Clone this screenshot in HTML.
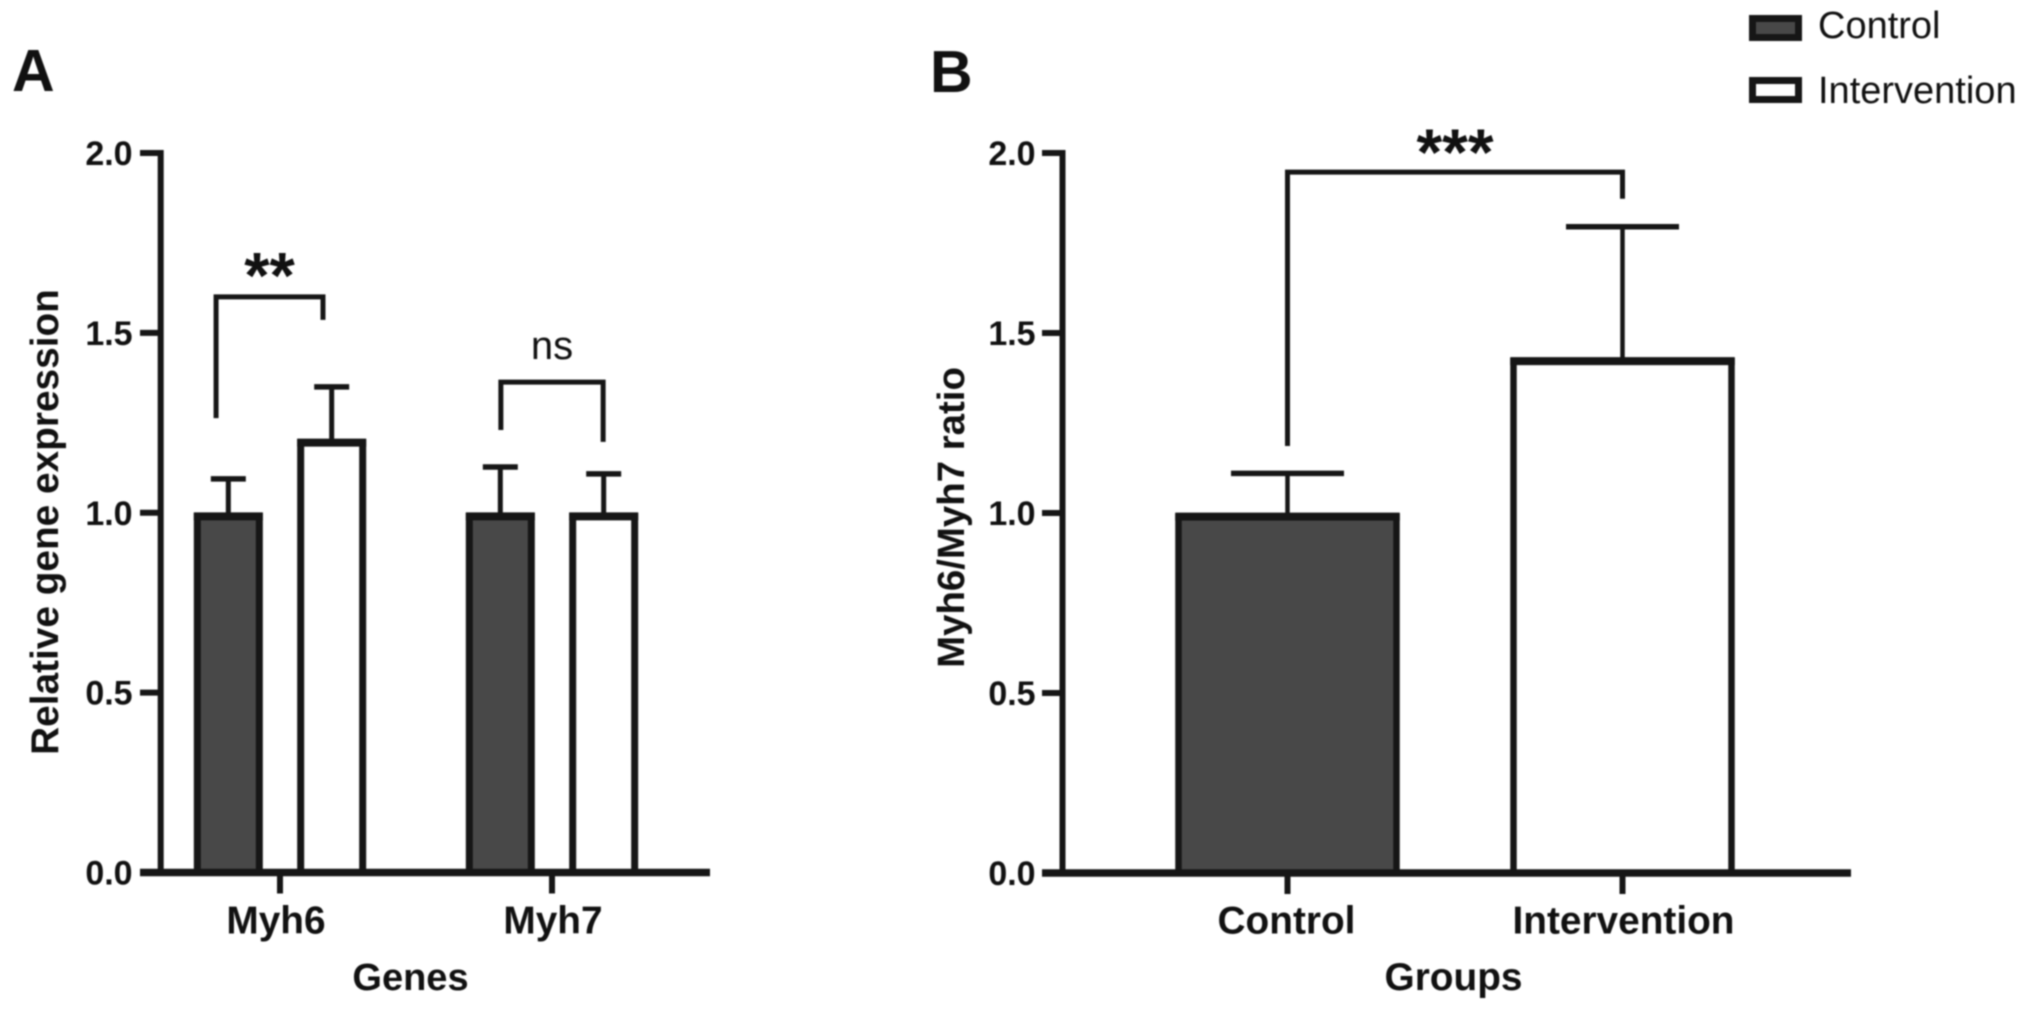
<!DOCTYPE html>
<html lang="en">
<head>
<meta charset="utf-8">
<title>Myh6 and Myh7 expression charts</title>
<style>
  html, body { margin: 0; padding: 0; background: #fff; }
  body { width: 2031px; height: 1012px; overflow: hidden; }
  svg { display: block; filter: blur(0.8px); }
  text { font-family: "Liberation Sans", Arial, sans-serif; fill: #111; }
  .bold { font-weight: 700; }
</style>
</head>
<body>
<svg id="figure" xmlns="http://www.w3.org/2000/svg" width="2031" height="1012" viewBox="0 0 2031 1012">
  <rect x="0" y="0" width="2031" height="1012" fill="#fff"/>

  <g id="panel-a"></g>
  <g id="panel-b"></g>

  <text class="bold" x="12" y="91" font-size="59">A</text>
  <text class="bold" x="930" y="92" font-size="59">B</text>

  <text class="bold" x="410.5" y="990" font-size="38" text-anchor="middle">Genes</text>
  <text class="bold" x="1453.5" y="990" font-size="38.8" text-anchor="middle">Groups</text>
  <text class="bold" transform="translate(58 522) rotate(-90)" font-size="38.8" text-anchor="middle">Relative gene expression</text>
  <text class="bold" transform="translate(964 517.5) rotate(-90)" font-size="38.4" text-anchor="middle">Myh6/Myh7 ratio</text>

  <g>
    <g>
      <rect x="1752.5" y="18.5" width="46" height="19" fill="#484848" stroke="#161616" stroke-width="7"/>
      <text x="1818" y="38" font-size="38">Control</text>
    </g>
    <g>
      <rect x="1752.5" y="80.5" width="46" height="19" fill="#fff" stroke="#161616" stroke-width="7"/>
      <text x="1818" y="103" font-size="38">Intervention</text>
    </g>
  </g>
</svg>

<script>
// Shared y axis
const tickValues = [0, 0.5, 1, 1.5, 2];
const tickLabels = ['0.0', '0.5', '1.0', '1.5', '2.0'];

// Panel A data
const genesCategories = ['Myh6', 'Myh7'];
const genesControl = [0.99, 0.99];
const genesIntervention = [1.195, 0.99];
const genesControlError = [0.104, 0.137];
const genesInterventionError = [0.155, 0.118];
const genesSigLabels = ['**', 'ns'];
const genesSigTop = [1.6, 1.363];
const genesSigLeftEnd = [1.263, 1.23];
const genesSigRightEnd = [1.536, 1.197];

// Panel B data
const groupCategories = ['Control', 'Intervention'];
const groupValues = [0.99, 1.422];
const groupError = [0.12, 0.373];
const groupSigLabels = ['***'];
const groupSigTop = [1.947];
const groupSigLeftEnd = [1.186];
const groupSigRightEnd = [1.873];

const NS = 'http://www.w3.org/2000/svg';
const INK = '#161616';
const DARK = '#484848';

function mk(parent, tag, attrs, text) {
  const el = document.createElementNS(NS, tag);
  for (const k in attrs) el.setAttribute(k, attrs[k]);
  if (text !== undefined) el.textContent = text;
  parent.appendChild(el);
  return el;
}

function linear(d0, d1, r0, r1) {
  return function (v) { return r0 + (v - d0) * (r1 - r0) / (d1 - d0); };
}

function drawAxes(g, cfg, y, x, categories) {
  tickValues.forEach(function (v, i) {
    const tick = mk(g, 'line', { x1: cfg.tickLeft, x2: cfg.axisX, y1: y(v), y2: y(v), stroke: INK, 'stroke-width': 6 });
    
    
    const label = mk(g, 'text', { x: cfg.tickLabelX, y: y(v) + 12, 'font-size': 34, 'font-weight': 700, 'text-anchor': 'end' }, tickLabels[i]);
    
    
  });
  const yAxis = mk(g, 'line', { x1: cfg.axisX, x2: cfg.axisX, y1: y(2) - 3, y2: y(0), stroke: INK, 'stroke-width': 6 });
  
  

  categories.forEach(function (c, i) {
    const tick = mk(g, 'line', { x1: x(i), x2: x(i), y1: y(0), y2: y(0) + 21, stroke: INK, 'stroke-width': 6 });
    
    
    const label = mk(g, 'text', { x: x(i) + cfg.catLabelDx[i], y: 933.5, 'font-size': 38.8, 'font-weight': 700, 'text-anchor': 'middle' }, c);
    
    
  });
}

function drawBar(g, cfg, y, cx, value, err, fill) {
  const stem = mk(g, 'line', { x1: cx, x2: cx, y1: y(value), y2: y(value + err), stroke: INK, 'stroke-width': cfg.stem });
  
  
  const cap = mk(g, 'line', { x1: cx - cfg.capHalf, x2: cx + cfg.capHalf, y1: y(value + err), y2: y(value + err), stroke: INK, 'stroke-width': 5.5 });
  
  
  const bar = mk(g, 'rect', { x: cx - cfg.barHalf, y: y(value), width: cfg.barHalf * 2, height: y(0) - y(value), fill: fill, stroke: INK, 'stroke-width': cfg.barStroke });
  
  
  const top = mk(g, 'line', { x1: cx - cfg.barHalf - cfg.barStroke / 2, x2: cx + cfg.barHalf + cfg.barStroke / 2, y1: y(value), y2: y(value), stroke: INK, 'stroke-width': 8 });
  
  
}

function drawBaseline(g, cfg, y) {
  const xAxis = mk(g, 'line', { x1: cfg.tickLeft, x2: cfg.axisRight, y1: y(0), y2: y(0), stroke: INK, 'stroke-width': 7.5 });
  
  
}

function drawBracket(g, y, xL, xR, top, leftEnd, rightEnd, width, label, size, baselineOffset, bold) {
  const path = mk(g, 'polyline', {
    points: xL + ',' + y(leftEnd) + ' ' + xL + ',' + y(top) + ' ' + xR + ',' + y(top) + ' ' + xR + ',' + y(rightEnd),
    fill: 'none', stroke: INK, 'stroke-width': width
  });
  
  
  const text = mk(g, 'text', {
    x: (xL + xR) / 2, y: y(top) + baselineOffset, 'font-size': size,
    'font-weight': bold ? 700 : 400, 'text-anchor': 'middle'
  }, label);
  
  
}

// Panel A
(function () {
  const g = document.getElementById('panel-a');
  const cfg = { axisX: 160.7, tickLeft: 140, axisRight: 710, tickLabelX: 132.6, catLabelDx: [-4, 1], barHalf: 31, barStroke: 7, capHalf: 17.5, stem: 5 };
  const y = linear(0, 2, 872.5, 153);
  const x = linear(0, 1, 280, 552);
  const offset = 0.19;
  drawAxes(g, cfg, y, x, genesCategories);
  genesCategories.forEach(function (c, i) {
    drawBar(g, cfg, y, x(i - offset), genesControl[i], genesControlError[i], DARK);
    drawBar(g, cfg, y, x(i + offset), genesIntervention[i], genesInterventionError[i], '#fff');
  });
  drawBaseline(g, cfg, y);
  drawBracket(g, y, x(-0.235), x(0.158), genesSigTop[0], genesSigLeftEnd[0], genesSigRightEnd[0], 5, genesSigLabels[0], 65, 1, true);
  drawBracket(g, y, x(0.812), x(1.188), genesSigTop[1], genesSigLeftEnd[1], genesSigRightEnd[1], 5, genesSigLabels[1], 40, -23, false);
})();

// Panel B
(function () {
  const g = document.getElementById('panel-b');
  const cfg = { axisX: 1062.5, tickLeft: 1042, axisRight: 1851, tickLabelX: 1035.6, catLabelDx: [-1, 1], barHalf: 109, barStroke: 6.5, capHalf: 56.5, stem: 4.5 };
  const y = linear(0, 2, 873, 153);
  const x = linear(0, 1, 1287.5, 1622.5);
  drawAxes(g, cfg, y, x, groupCategories);
  groupCategories.forEach(function (c, i) {
    drawBar(g, cfg, y, x(i), groupValues[i], groupError[i], i === 0 ? DARK : '#fff');
  });
  drawBaseline(g, cfg, y);
  drawBracket(g, y, x(0), x(1), groupSigTop[0], groupSigLeftEnd[0], groupSigRightEnd[0], 5, groupSigLabels[0], 66, 3, true);
})();
</script>
</body>
</html>
